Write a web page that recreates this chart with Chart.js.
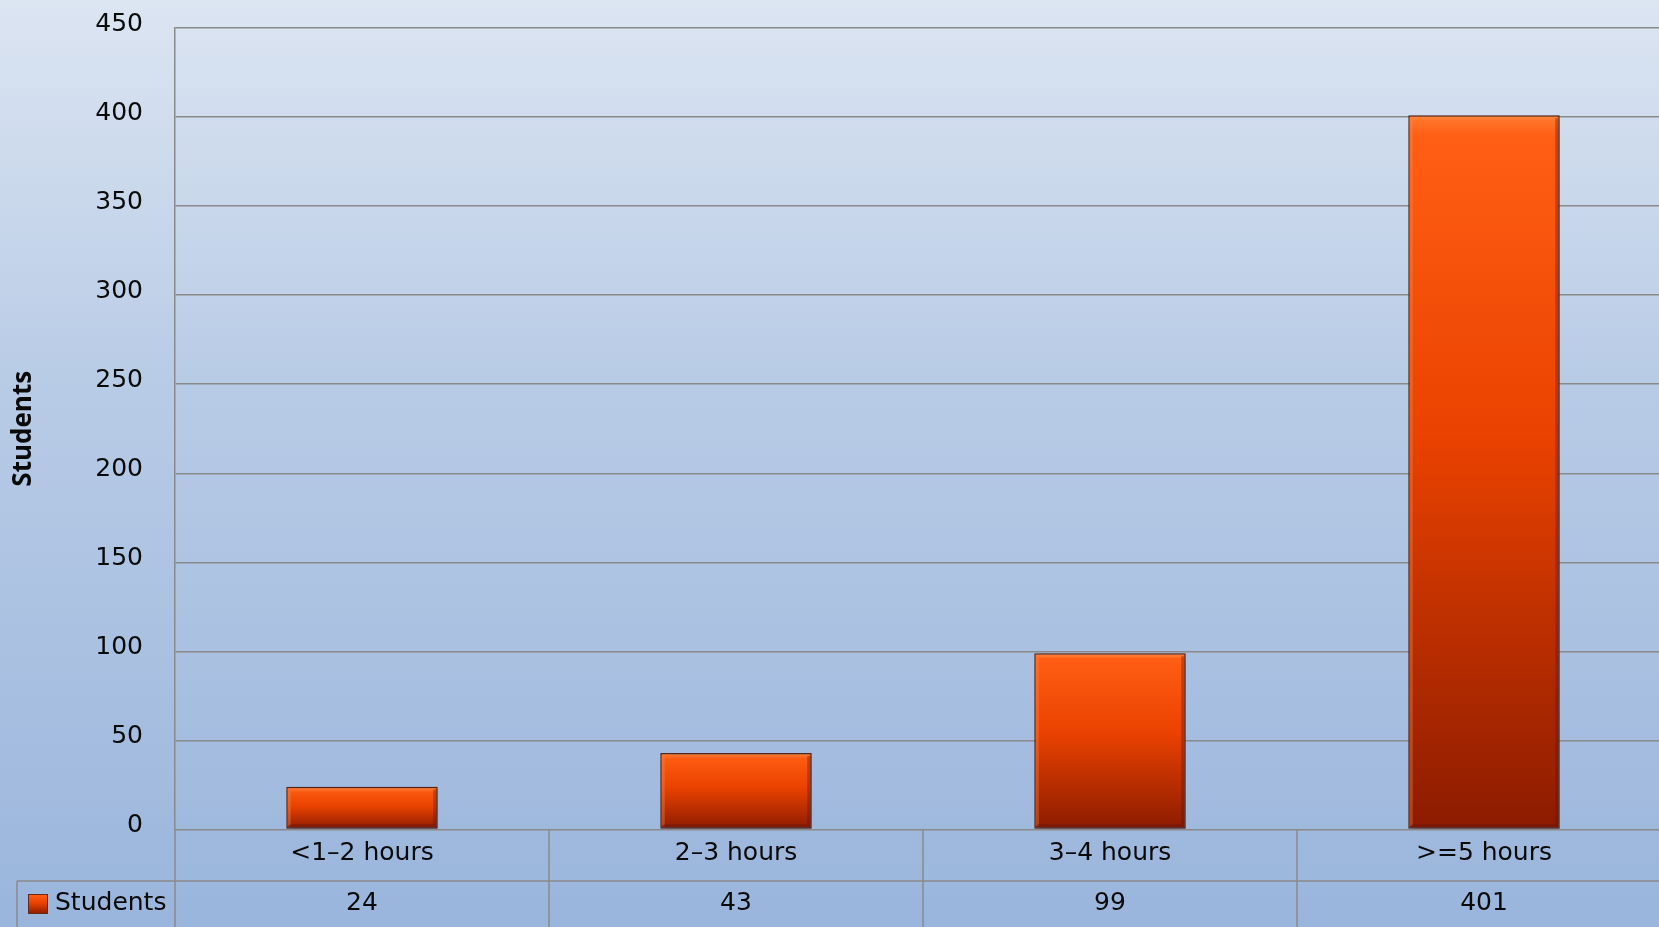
<!DOCTYPE html>
<html>
<head>
<meta charset="utf-8">
<script src="https://cdn.jsdelivr.net/npm/chart.js@4.4.1/dist/chart.umd.min.js"></script>
<style>
  html, body { margin: 0; padding: 0; width: 1659px; height: 927px; overflow: hidden; }
  body { background: linear-gradient(to bottom, #dce5f2 0%, #b9cce6 40%, #9ab5dc 100%); }
  #wrap { position: absolute; left: 0; top: 0; width: 1671px; height: 927px; }
</style>
</head>
<body>
<div id="wrap"><canvas id="c" width="1671" height="927"></canvas></div>
<script>
const categories = ['<1\u20132 hours', '2\u20133 hours', '3\u20134 hours', '>=5 hours'];
const seriesName = 'Students';
const studentValues = [24, 43, 99, 401];
const yTicks = [0, 50, 100, 150, 200, 250, 300, 350, 400, 450];
const yTitle = 'Students';

const FONT = 'DejaVu Sans, Verdana, sans-serif';
const TITLE_FONT = '"Open Sans", "Liberation Sans", sans-serif';
const GRID = '#8a8a8a';
const TEXT = '#0a0a0a';

function barGradient(ctx, top, bottom) {
  const g = ctx.createLinearGradient(0, top, 0, bottom);
  g.addColorStop(0, '#ff7a30');
  g.addColorStop(0.03, '#ff5e14');
  g.addColorStop(0.45, '#ea4200');
  g.addColorStop(1, '#8c1b00');
  return g;
}

const shadowPlugin = {
  id: 'barShadow',
  beforeDatasetsDraw(chart) {
    const ctx = chart.ctx;
    ctx.save();
    ctx.shadowColor = 'rgba(40,40,60,0.45)';
    ctx.shadowBlur = 6;
    ctx.shadowOffsetX = 2;
    ctx.shadowOffsetY = 2;
  },
  afterDatasetsDraw(chart) {
    chart.ctx.restore();
    // subtle bevel on each bar, following the bar elements' own geometry
    const ctx = chart.ctx;
    const meta = chart.getDatasetMeta(0);
    ctx.save();
    meta.data.forEach(bar => {
      const p = bar.getProps(['x', 'y', 'base', 'width'], true);
      const l = p.x - p.width / 2, r = p.x + p.width / 2;
      const t = Math.min(p.y, p.base), b = Math.max(p.y, p.base);
      ctx.lineWidth = 3;
      ctx.strokeStyle = 'rgba(255,140,70,0.35)';
      ctx.beginPath();
      ctx.moveTo(l + 3, b - 3); ctx.lineTo(l + 3, t + 3); ctx.lineTo(r - 3, t + 3);
      ctx.stroke();
      ctx.strokeStyle = 'rgba(90,20,0,0.35)';
      ctx.beginPath();
      ctx.moveTo(r - 3, t + 3); ctx.lineTo(r - 3, b - 3); ctx.lineTo(l + 3, b - 3);
      ctx.stroke();
    });
    ctx.restore();
  }
};

const tablePlugin = {
  id: 'dataTable',
  afterDraw(chart) {
    const ctx = chart.ctx;
    const x = chart.scales.x;
    const ca = chart.chartArea;
    const n = categories.length;
    const colW = (x.right - x.left) / n;
    const rowY = ca.bottom + 51.5;
    const H = chart.height;
    ctx.save();
    ctx.strokeStyle = GRID;
    ctx.lineWidth = 1.5;
    ctx.beginPath();
    for (let i = 0; i <= n; i++) {
      const px = x.left + i * colW;
      ctx.moveTo(px, ca.bottom);
      ctx.lineTo(px, H);
    }
    ctx.moveTo(17, rowY);
    ctx.lineTo(x.right, rowY);
    ctx.moveTo(17, rowY);
    ctx.lineTo(17, H);
    ctx.stroke();

    ctx.font = '25px ' + FONT;
    ctx.fillStyle = TEXT;
    ctx.textAlign = 'center';
    ctx.textBaseline = 'middle';
    const textY = rowY + 22;
    for (let i = 0; i < n; i++) {
      ctx.fillText(String(studentValues[i]), x.getPixelForValue(i), textY);
    }
    // legend key
    const sx = 28, sy = textY - 9, ss = 20;
    ctx.fillStyle = barGradient(ctx, sy, sy + ss);
    ctx.fillRect(sx, sy, ss, ss);
    ctx.strokeStyle = '#6a2a14';
    ctx.lineWidth = 1;
    ctx.strokeRect(sx + 0.5, sy + 0.5, ss - 1, ss - 1);
    ctx.fillStyle = TEXT;
    ctx.textAlign = 'left';
    ctx.fillText(seriesName, 55, textY);
    ctx.restore();
  }
};

new Chart(document.getElementById('c'), {
  type: 'bar',
  data: {
    labels: categories,
    datasets: [{
      label: seriesName,
      data: studentValues,
      backgroundColor(context) {
        const chart = context.chart;
        const ca = chart.chartArea;
        const ys = chart.scales.y;
        if (!ca || !ys || context.dataIndex === undefined) return '#e84400';
        const v = studentValues[context.dataIndex];
        const top = ys.getPixelForValue(v);
        const bottom = ys.getPixelForValue(0);
        return barGradient(chart.ctx, top, bottom);
      },
      borderColor: '#5a2412',
      borderWidth: 1.5,
      borderSkipped: false,
      categoryPercentage: 1,
      barPercentage: 0.405
    }]
  },
  options: {
    responsive: false,
    animation: false,
    layout: { padding: { top: 28, left: 0, right: 0, bottom: 0 } },
    plugins: { legend: { display: false }, tooltip: { enabled: false } },
    scales: {
      x: {
        grid: { display: false, drawTicks: false },
        border: { display: false },
        ticks: { color: TEXT, font: { family: FONT, size: 25 }, padding: 9, maxRotation: 0 },
        afterFit(scale) { scale.height = 97.5; scale.paddingTop = 0; scale.paddingBottom = 0; }
      },
      y: {
        min: 0, max: 450,
        afterBuildTicks(scale) { scale.ticks = yTicks.map(v => ({ value: v })); },
        grid: { color: GRID, lineWidth: 1.5, drawTicks: false },
        border: { display: true, color: GRID, width: 1.5 },
        ticks: { color: TEXT, font: { family: FONT, size: 25 }, padding: 32, labelOffset: -4 },
        title: { display: true, text: yTitle, color: TEXT, font: { family: TITLE_FONT, size: 26, weight: 'bold', lineHeight: 1.2 }, padding: { top: 8, bottom: 0 } },
        afterFit(scale) { scale.width = 175; scale.paddingTop = 0; scale.paddingBottom = 0; }
      }
    }
  },
  plugins: [shadowPlugin, tablePlugin]
});
</script>
</body>
</html>
